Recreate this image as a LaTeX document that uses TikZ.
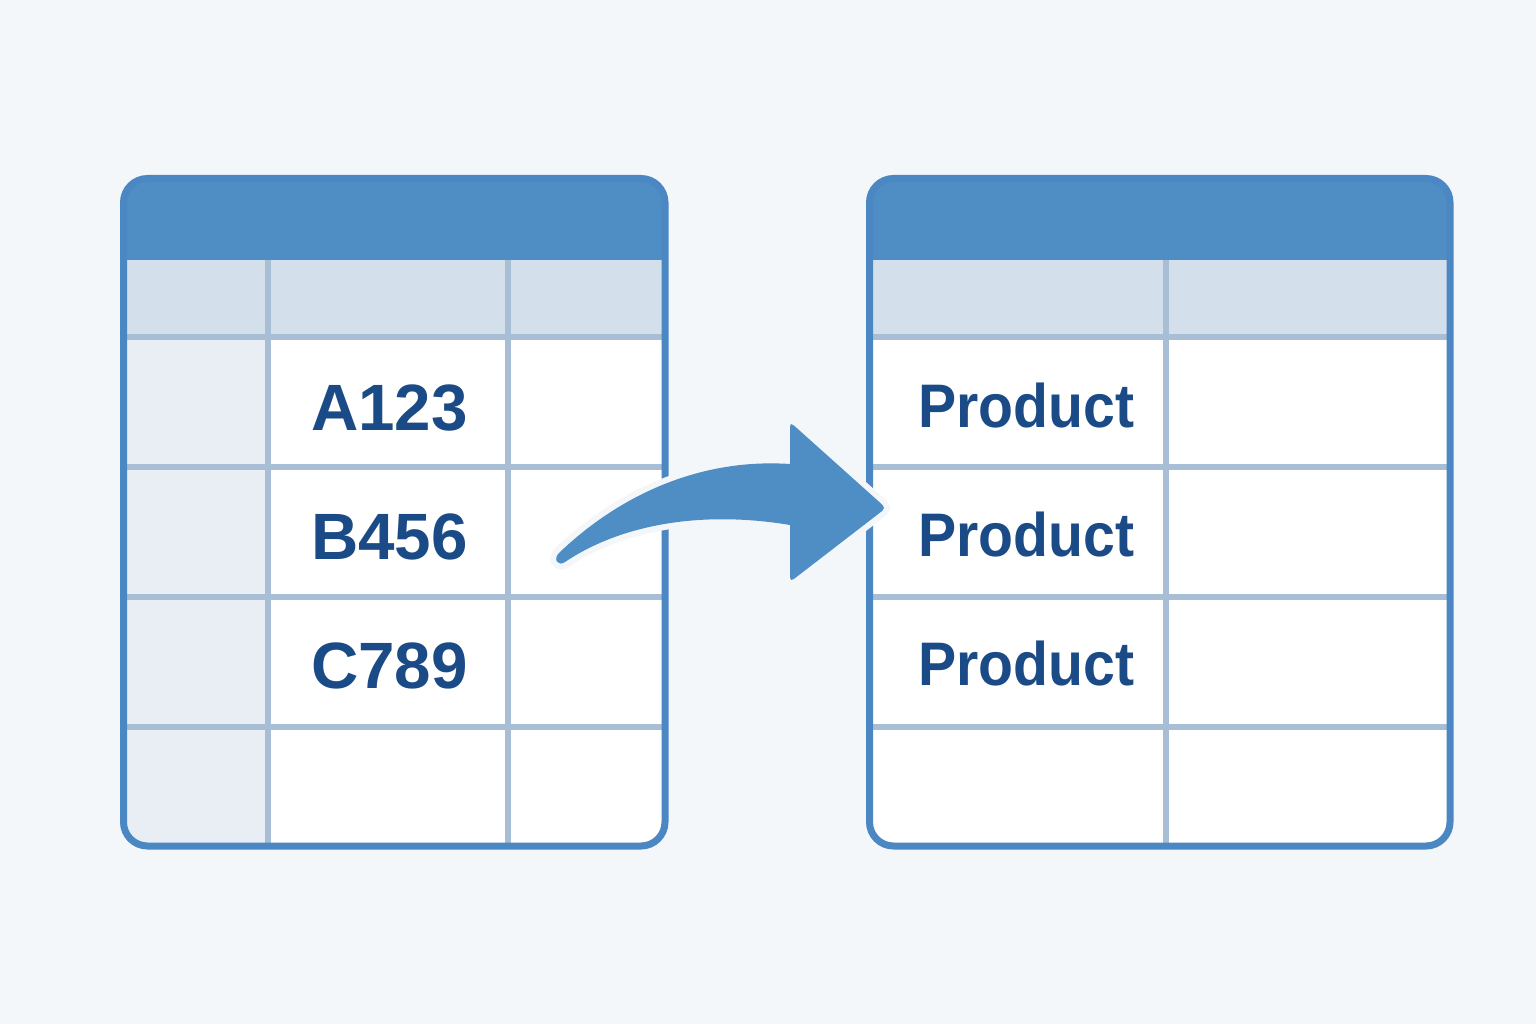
\documentclass[tikz,border=0pt]{standalone}
\usepackage{fontspec}
\setmainfont{Liberation Sans}
\definecolor{bgc}{HTML}{F3F7FA}
\definecolor{bluec}{HTML}{4F8DC5}
\definecolor{borderc}{HTML}{4A87C3}
\definecolor{gridc}{HTML}{A8BED4}
\definecolor{headc}{HTML}{D3DFEA}
\definecolor{leftc}{HTML}{E8EEF4}
\definecolor{textc}{HTML}{1B4B87}
\newcommand\myarrowpath{(560,552) .. controls (620,495) and (700,458) .. (790,464)
  -- (790,432) .. controls (790,422) .. (797.5,428.7)
  -- (878.5,501.3) .. controls (886,508) .. (878.1,514.1)
  -- (797.9,575.9) .. controls (790,582) .. (790,572)
  -- (790,525)
  .. controls (700,510) and (620,525) .. (565,562)
  .. controls (558,567) and (552,559) .. (560,552) -- cycle}
\tikzset{
  gridline/.style={draw=gridc, line width=6pt},
  tborder/.style={draw=borderc, line width=7pt},
  codetext/.style={font=\fontsize{65.5}{70}\selectfont\bfseries, text=textc, inner sep=0pt, anchor=base west},
  prodtext/.style={font=\fontsize{61.5}{66}\selectfont\bfseries, text=textc, inner sep=0pt, anchor=base west, xscale=0.93},
}
\begin{document}
\begin{tikzpicture}[x=1pt,y=-1pt]
\useasboundingbox (0,0) rectangle (1536,1024);
\fill[bgc] (0,0) rectangle (1536,1024);

% ---------- left table ----------
\begin{scope}
  \clip[rounded corners=24pt] (123.5,178.5) rectangle (665,846);
  \fill[white] (100,150) rectangle (700,900);
  \fill[bluec] (100,150) rectangle (700,260);
  \fill[headc] (100,260) rectangle (700,337);
  \fill[leftc] (100,337) rectangle (268,900);
  \foreach \yy in {337,467,597,727} \draw[gridline] (100,\yy) -- (700,\yy);
  \foreach \xx in {268,508} \draw[gridline] (\xx,260) -- (\xx,900);
\end{scope}
\draw[tborder, rounded corners=24pt] (123.5,178.5) rectangle (665,846);

% ---------- right table ----------
\begin{scope}
  \clip[rounded corners=24pt] (869.5,178.5) rectangle (1450,846);
  \fill[white] (850,150) rectangle (1480,900);
  \fill[bluec] (850,150) rectangle (1480,260);
  \fill[headc] (850,260) rectangle (1480,337);
  \foreach \yy in {337,467,597,727} \draw[gridline] (850,\yy) -- (1480,\yy);
  \draw[gridline] (1166,260) -- (1166,900);
\end{scope}
\draw[tborder, rounded corners=24pt] (869.5,178.5) rectangle (1450,846);

% ---------- texts ----------
\node[codetext] (a123) at (311,430) {A123};
\node[codetext] (b456) at (311,559) {B456};
\node[codetext] (c789) at (311,688) {C789};
\node[prodtext] (p1) at (918,427) {Product};
\node[prodtext] (p2) at (918,556) {Product};
\node[prodtext] (p3) at (918,685) {Product};

% ---------- arrow ----------
\draw[bgc, line width=12pt, line join=round] \myarrowpath;
\fill[bluec] \myarrowpath;
\end{tikzpicture}
\end{document}
